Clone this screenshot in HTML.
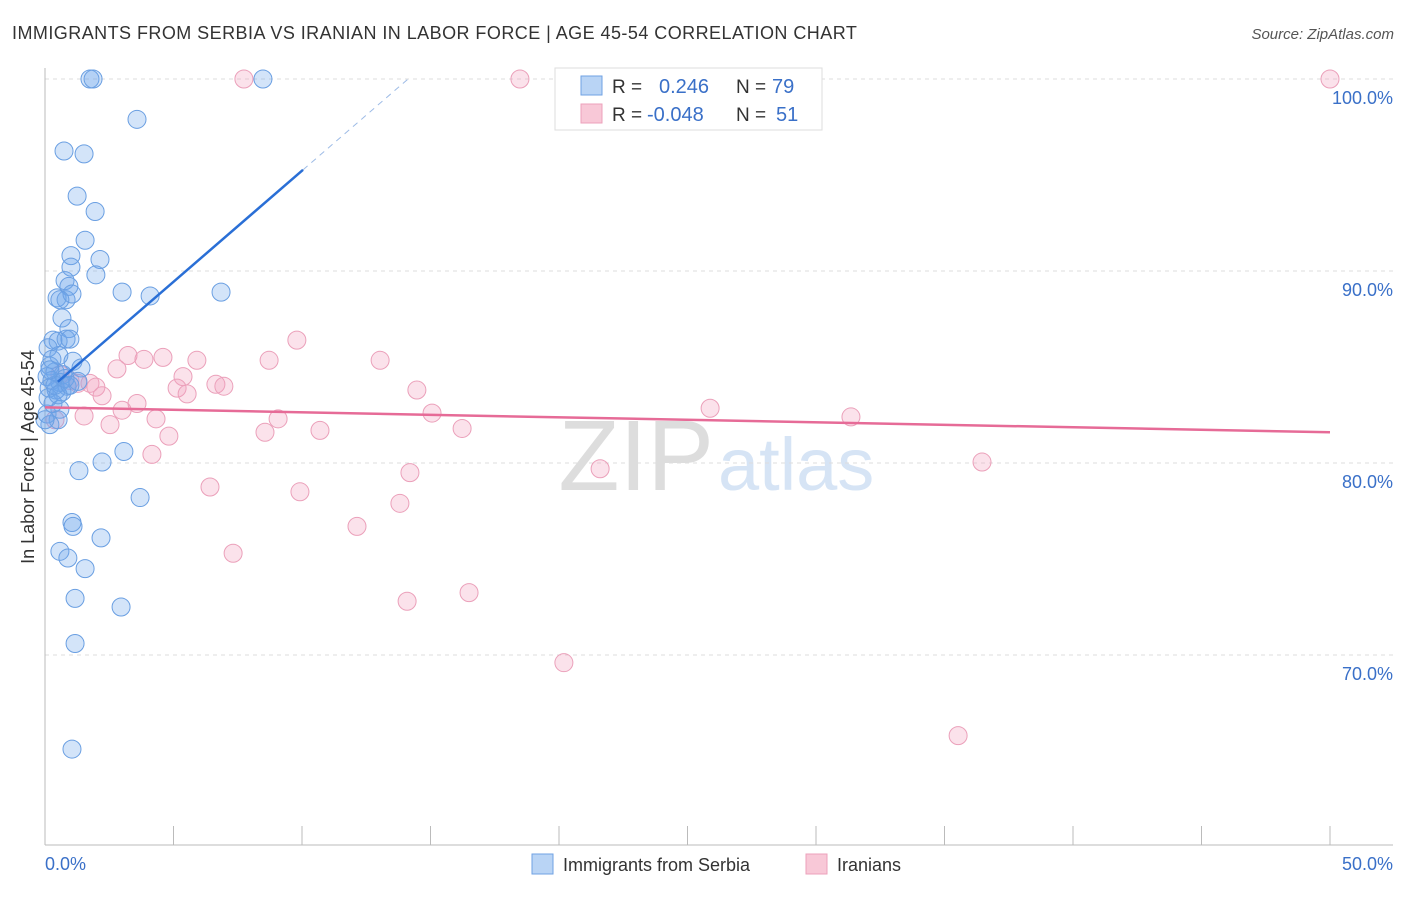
<!DOCTYPE html>
<html><head><meta charset="utf-8"><style>
body{margin:0;background:#fff;font-family:"Liberation Sans",sans-serif}
svg text{font-family:"Liberation Sans",sans-serif}
</style></head><body>
<svg id="c" width="1406" height="892">
<text x="12" y="39" font-size="18" fill="#333" letter-spacing="0.45">IMMIGRANTS FROM SERBIA VS IRANIAN IN LABOR FORCE | AGE 45-54 CORRELATION CHART</text>
<text x="1394" y="39" font-size="15" fill="#555" font-style="italic" text-anchor="end">Source: ZipAtlas.com</text>
<text x="714" y="490" font-size="100" fill="#ddd" text-anchor="end" font-family="Liberation Serif">ZIP</text>
<text x="718" y="490" font-size="74" fill="#d6e4f5">atlas</text>
<g id="grid"></g><g id="pts"></g><g id="trend"></g>
<text transform="translate(34,457) rotate(-90)" font-size="18" fill="#333" text-anchor="middle">In Labor Force | Age 45-54</text>
<text x="45" y="870" font-size="18" fill="#3a70c8">0.0%</text>
<text x="1393" y="870" font-size="18" fill="#3a70c8" text-anchor="end">50.0%</text>
<g>
<rect x="555" y="68" width="267" height="62" fill="#fff" stroke="#ddd"/>
<rect x="581" y="76" width="21" height="19" fill="#b9d4f5" stroke="#6fa2e3"/>
<rect x="581" y="104" width="21" height="19" fill="#f8c8d7" stroke="#eca1bb"/>
<text x="612" y="93" font-size="19" fill="#333">R =</text><text x="659" y="93" font-size="20" fill="#3a70c8">0.246</text>
<text x="736" y="93" font-size="19" fill="#333">N =</text><text x="772" y="93" font-size="20" fill="#3a70c8">79</text>
<text x="612" y="121" font-size="19" fill="#333">R =</text><text x="647" y="121" font-size="20" fill="#3a70c8">-0.048</text>
<text x="736" y="121" font-size="19" fill="#333">N =</text><text x="776" y="121" font-size="20" fill="#3a70c8">51</text>
</g>
<g><rect x="532" y="854" width="21" height="20" fill="#b9d4f5" stroke="#6fa2e3"/><text x="563" y="871" font-size="18" fill="#333">Immigrants from Serbia</text></g>
<g><rect x="806" y="854" width="21" height="20" fill="#f8c8d7" stroke="#eca1bb"/><text x="837" y="871" font-size="18" fill="#333">Iranians</text></g>
</svg>
<script>
const yTicks=[100,90,80,70];
const yTickLabels=["100.0%","90.0%","80.0%","70.0%"];
const blueX=[1.75,1.87,8.48,3.58,0.74,1.52,1.25,1.95,1.56,1.01,2.14,1.01,1.98,0.78,0.93,3.0,4.09,6.85,0.47,0.82,1.05,0.58,0.66,0.93,0.31,0.51,0.82,0.97,0.12,0.54,1.09,1.4,0.19,0.39,0.7,0.08,0.27,0.58,0.86,1.28,0.16,0.43,0.66,0.12,0.31,0.58,0.08,0.51,0.19,3.07,2.22,1.32,3.7,1.05,1.09,2.18,0.58,0.89,1.56,1.17,2.96,1.17,1.05,0.39,0.51,0.78,0.27,0.97,0,0.19];
const blueY=[100,100,100,97.9,96.25,96.1,93.9,93.1,91.6,90.8,90.6,90.2,89.8,89.5,89.2,88.9,88.7,88.9,88.6,88.5,88.8,88.5,87.55,87.0,86.4,86.35,86.45,86.45,86.0,85.6,85.3,84.95,85.05,84.75,84.6,84.5,84.3,84.2,84.0,84.25,83.9,83.8,83.7,83.4,83.1,82.8,82.55,82.25,82.0,80.6,80.05,79.6,78.2,76.9,76.7,76.1,75.4,75.05,74.5,72.95,72.5,70.6,65.1,84.05,83.55,84.4,85.4,84.05,82.25,84.85];
const pinkX=[7.74,18.48,50,9.8,3.23,3.85,4.59,5.91,8.72,13.04,2.8,5.37,1.75,1.98,6.65,6.96,5.14,5.53,2.22,14.47,0.97,0.58,3.58,3.0,1.52,2.53,4.32,9.07,8.56,10.7,15.06,16.23,25.88,31.36,4.82,4.16,6.42,9.92,14.2,13.81,21.6,36.46,12.14,7.32,14.09,16.5,20.19,35.53,0.39,1.28];
const pinkY=[100,100,100,86.4,85.6,85.4,85.5,85.35,85.35,85.35,84.9,84.5,84.15,83.95,84.1,84.0,83.9,83.6,83.5,83.8,84.3,84.6,83.1,82.75,82.45,82.0,82.3,82.3,81.6,81.7,82.6,81.8,82.85,82.4,81.4,80.45,78.75,78.5,79.5,77.9,79.7,80.05,76.7,75.3,72.8,73.25,69.6,65.8,82.25,84.15];
const blueTrend=[[0.5,84.23],[10.04,95.27],[14.1,99.97]];
const pinkTrend=[[0,82.9],[50,81.6]];
const X=v=>45+v*25.7, Y=v=>79+(100-v)*19.2;
const NS="http://www.w3.org/2000/svg";
function mk(t,a,p){const e=document.createElementNS(NS,t);for(const k in a)e.setAttribute(k,a[k]);p.appendChild(e);return e;}
const g=document.getElementById('grid');
yTicks.forEach((t,i)=>{
 const l=mk('line',{x1:45,x2:1393,y1:Y(t),y2:Y(t),stroke:'#ddd','stroke-dasharray':'4,4'},g);
 
 
 const tx=mk('text',{x:1393,y:Y(t)+25,'font-size':18,fill:'#3a70c8','text-anchor':'end'},g);
 tx.textContent=yTickLabels[i];
 
 
});
const ax=mk('line',{x1:45,x2:45,y1:68,y2:845,stroke:'#bbb'},g);


const bx=mk('line',{x1:45,x2:1393,y1:845,y2:845,stroke:'#bbb'},g);


for(let i=0;i<=10;i++){const t=mk('line',{x1:X(i*5),x2:X(i*5),y1:826,y2:845,stroke:'#bbb'},g);
 
 }
const p=document.getElementById('pts');
pinkX.forEach((v,i)=>{const c=mk('circle',{cx:X(v),cy:Y(pinkY[i]),r:9,fill:'rgba(242,160,188,0.3)',stroke:'#eba0ba','stroke-width':1},p);
 
 });
blueX.forEach((v,i)=>{const c=mk('circle',{cx:X(v),cy:Y(blueY[i]),r:9,fill:'rgba(110,165,235,0.3)',stroke:'#6a9fe2','stroke-width':1},p);
 
 });
const tr=document.getElementById('trend');
const b1=mk('line',{x1:X(blueTrend[0][0]),y1:Y(blueTrend[0][1]),x2:X(blueTrend[1][0]),y2:Y(blueTrend[1][1]),stroke:'#2a6fd6','stroke-width':2.5},tr);


const b2=mk('line',{x1:X(blueTrend[1][0]),y1:Y(blueTrend[1][1]),x2:X(blueTrend[2][0]),y2:Y(blueTrend[2][1]),stroke:'#9dbbe6','stroke-width':1,'stroke-dasharray':'6,5'},tr);


const p1=mk('line',{x1:X(pinkTrend[0][0]),y1:Y(pinkTrend[0][1]),x2:X(pinkTrend[1][0]),y2:Y(pinkTrend[1][1]),stroke:'#e66b97','stroke-width':2.5},tr);


</script>
</body></html>
